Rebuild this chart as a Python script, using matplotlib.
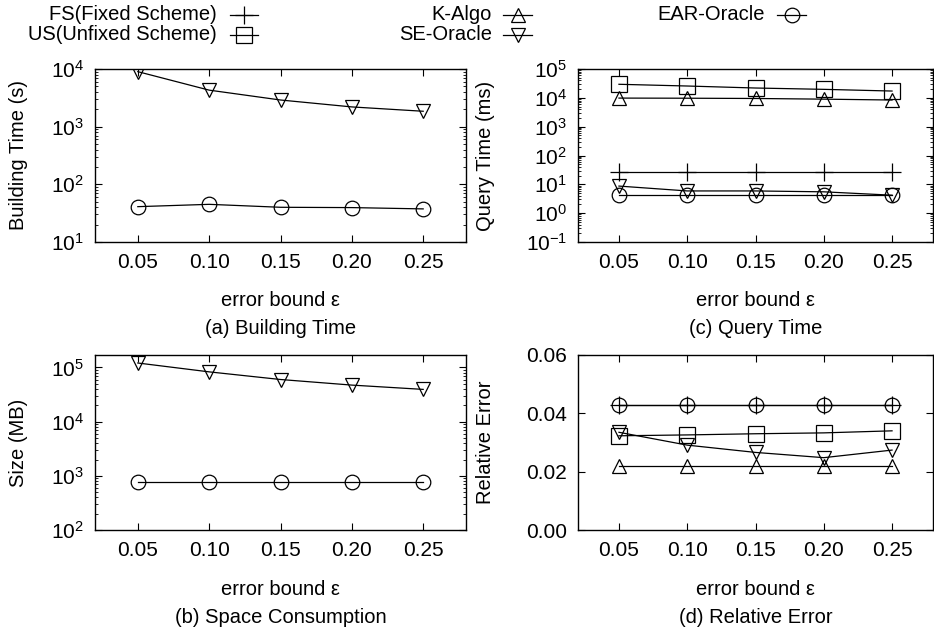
import numpy as np
import matplotlib
matplotlib.use("Agg")
import matplotlib.pyplot as plt
from matplotlib.lines import Line2D
from matplotlib.ticker import LogFormatterMathtext, LogLocator, FixedLocator, NullLocator

plt.rcParams['font.family'] = ['Liberation Sans', 'DejaVu Sans']
plt.rcParams['mathtext.fontset'] = 'custom'
plt.rcParams['mathtext.rm'] = 'Liberation Sans'
plt.rcParams['mathtext.it'] = 'Liberation Sans:italic'
plt.rcParams['font.size'] = 14.5

# error bound epsilon
eps = [0.05, 0.10, 0.15, 0.20, 0.25]
eps_labels = ['0.05', '0.10', '0.15', '0.20', '0.25']

# (a) building time (s)
build_se = [9000, 4300, 2900, 2200, 1850]
build_ear = [41, 45, 40, 39.5, 37.5]

# (b) size (MB)
size_se = [121000, 83000, 60000, 47300, 39400]
size_ear = [770, 770, 770, 770, 770]

# (c) query time (ms)
query_fs = [26, 26, 26, 26, 26]
query_us = [29500, 25700, 21900, 19700, 17200]
query_k = [9800, 9700, 9500, 9000, 8400]
query_se = [8.7, 5.9, 5.9, 5.5, 4.2]
query_ear = [4.4, 4.4, 4.4, 4.4, 4.4]

# (d) relative error
err_fs = [0.043, 0.043, 0.043, 0.043, 0.043]
err_us = [0.0323, 0.0326, 0.0330, 0.0333, 0.0340]
err_k = [0.022, 0.022, 0.022, 0.022, 0.022]
err_se = [0.0335, 0.0291, 0.0266, 0.0248, 0.0274]
err_ear = [0.043, 0.043, 0.043, 0.043, 0.043]

names = ['FS(Fixed Scheme)', 'US(Unfixed Scheme)', 'K-Algo', 'SE-Oracle', 'EAR-Oracle']
marks = {'FS(Fixed Scheme)': '+', 'US(Unfixed Scheme)': 's', 'K-Algo': '^',
         'SE-Oracle': 'v', 'EAR-Oracle': 'o'}
msz = {'+': 13, 's': 11, '^': 10.5, 'v': 10.5, 'o': 10.5}

W, H = 934, 636
fig = plt.figure(figsize=(W / 100, H / 100), dpi=100)


def px_axes(l, t, r, b):
    return fig.add_axes([l / W, 1 - b / H, (r - l) / W, (b - t) / H])


def draw(ax, name, ys):
    m = marks[name]
    ax.plot(eps, ys, color='black', lw=0.9, marker=m, ms=msz[m],
            mfc='none', mec='black', mew=0.9)


def style(ax, ylab, ylab_x, cap):
    ax.set_xlim(0.02, 0.28)
    ax.xaxis.set_major_locator(FixedLocator(eps))
    ax.set_xticklabels(eps_labels)
    ax.xaxis.set_minor_locator(NullLocator())
    ax.tick_params(which='both', direction='in', top=True, right=True)
    ax.tick_params(which='major', length=5, width=0.8, pad=8, labelsize=15)
    ax.tick_params(which='minor', length=2.5, width=0.6)
    ax.set_ylabel(ylab)
    ax.yaxis.set_label_coords(ylab_x, 0.5)
    ax.set_xlabel('error bound ε')
    ax.xaxis.set_label_coords(0.5, -0.285)
    ax.text(0.5, -0.50, cap, transform=ax.transAxes, ha='center', va='center')
    for s in ax.spines.values():
        s.set_linewidth(1.0)


def logy(ax, lo, hi):
    ax.set_yscale('log')
    ax.set_ylim(lo, hi)
    ax.yaxis.set_major_locator(LogLocator(base=10, numticks=20))
    ax.yaxis.set_minor_locator(LogLocator(base=10, subs=np.arange(2, 10), numticks=20))
    ax.yaxis.set_major_formatter(LogFormatterMathtext())


# (a) Building Time
ax_a = px_axes(95, 69, 466, 242)
draw(ax_a, 'SE-Oracle', build_se)
draw(ax_a, 'EAR-Oracle', build_ear)
logy(ax_a, 10, 1e4)
style(ax_a, 'Building Time (s)', -0.18, '(a) Building Time')

# (c) Query Time
ax_c = px_axes(578, 69, 933, 242)
draw(ax_c, 'FS(Fixed Scheme)', query_fs)
draw(ax_c, 'US(Unfixed Scheme)', query_us)
draw(ax_c, 'K-Algo', query_k)
draw(ax_c, 'SE-Oracle', query_se)
draw(ax_c, 'EAR-Oracle', query_ear)
logy(ax_c, 0.1, 1e5)
style(ax_c, 'Query Time (ms)', -0.235, '(c) Query Time')

# (b) Space Consumption
ax_b = px_axes(95, 355, 466, 530)
draw(ax_b, 'SE-Oracle', size_se)
draw(ax_b, 'EAR-Oracle', size_ear)
logy(ax_b, 100, 1.7e5)
style(ax_b, 'Size (MB)', -0.18, '(b) Space Consumption')

# (d) Relative Error
ax_d = px_axes(578, 355, 933, 530)
draw(ax_d, 'FS(Fixed Scheme)', err_fs)
draw(ax_d, 'US(Unfixed Scheme)', err_us)
draw(ax_d, 'K-Algo', err_k)
draw(ax_d, 'SE-Oracle', err_se)
draw(ax_d, 'EAR-Oracle', err_ear)
ax_d.set_ylim(0, 0.06)
ax_d.yaxis.set_major_locator(FixedLocator([0, 0.02, 0.04, 0.06]))
ax_d.yaxis.set_major_formatter(plt.FuncFormatter(lambda v, p: '%.2f' % v))
style(ax_d, 'Relative Error', -0.235, '(d) Relative Error')

# key at the top, gnuplot style (text then sample)
key = [('FS(Fixed Scheme)', 217, 230, 258, 15),
       ('US(Unfixed Scheme)', 217, 230, 258, 35),
       ('K-Algo', 492, 503, 532, 15),
       ('SE-Oracle', 492, 503, 532, 35),
       ('EAR-Oracle', 765, 777, 806, 15)]
for name, tx, x0, x1, y in key:
    fig.text(tx / W, 1 - y / H, name, ha='right', va='center')
    fig.add_artist(Line2D([x0 / W, x1 / W], [1 - y / H, 1 - y / H], color='black', lw=0.9,
                          transform=fig.transFigure))
    m = marks[name]
    fig.add_artist(Line2D([(x0 + x1) / 2 / W], [1 - y / H], marker=m, ms=msz[m],
                          mfc='none', mec='black', mew=0.9, transform=fig.transFigure))

fig.savefig('out.png', dpi=100)
